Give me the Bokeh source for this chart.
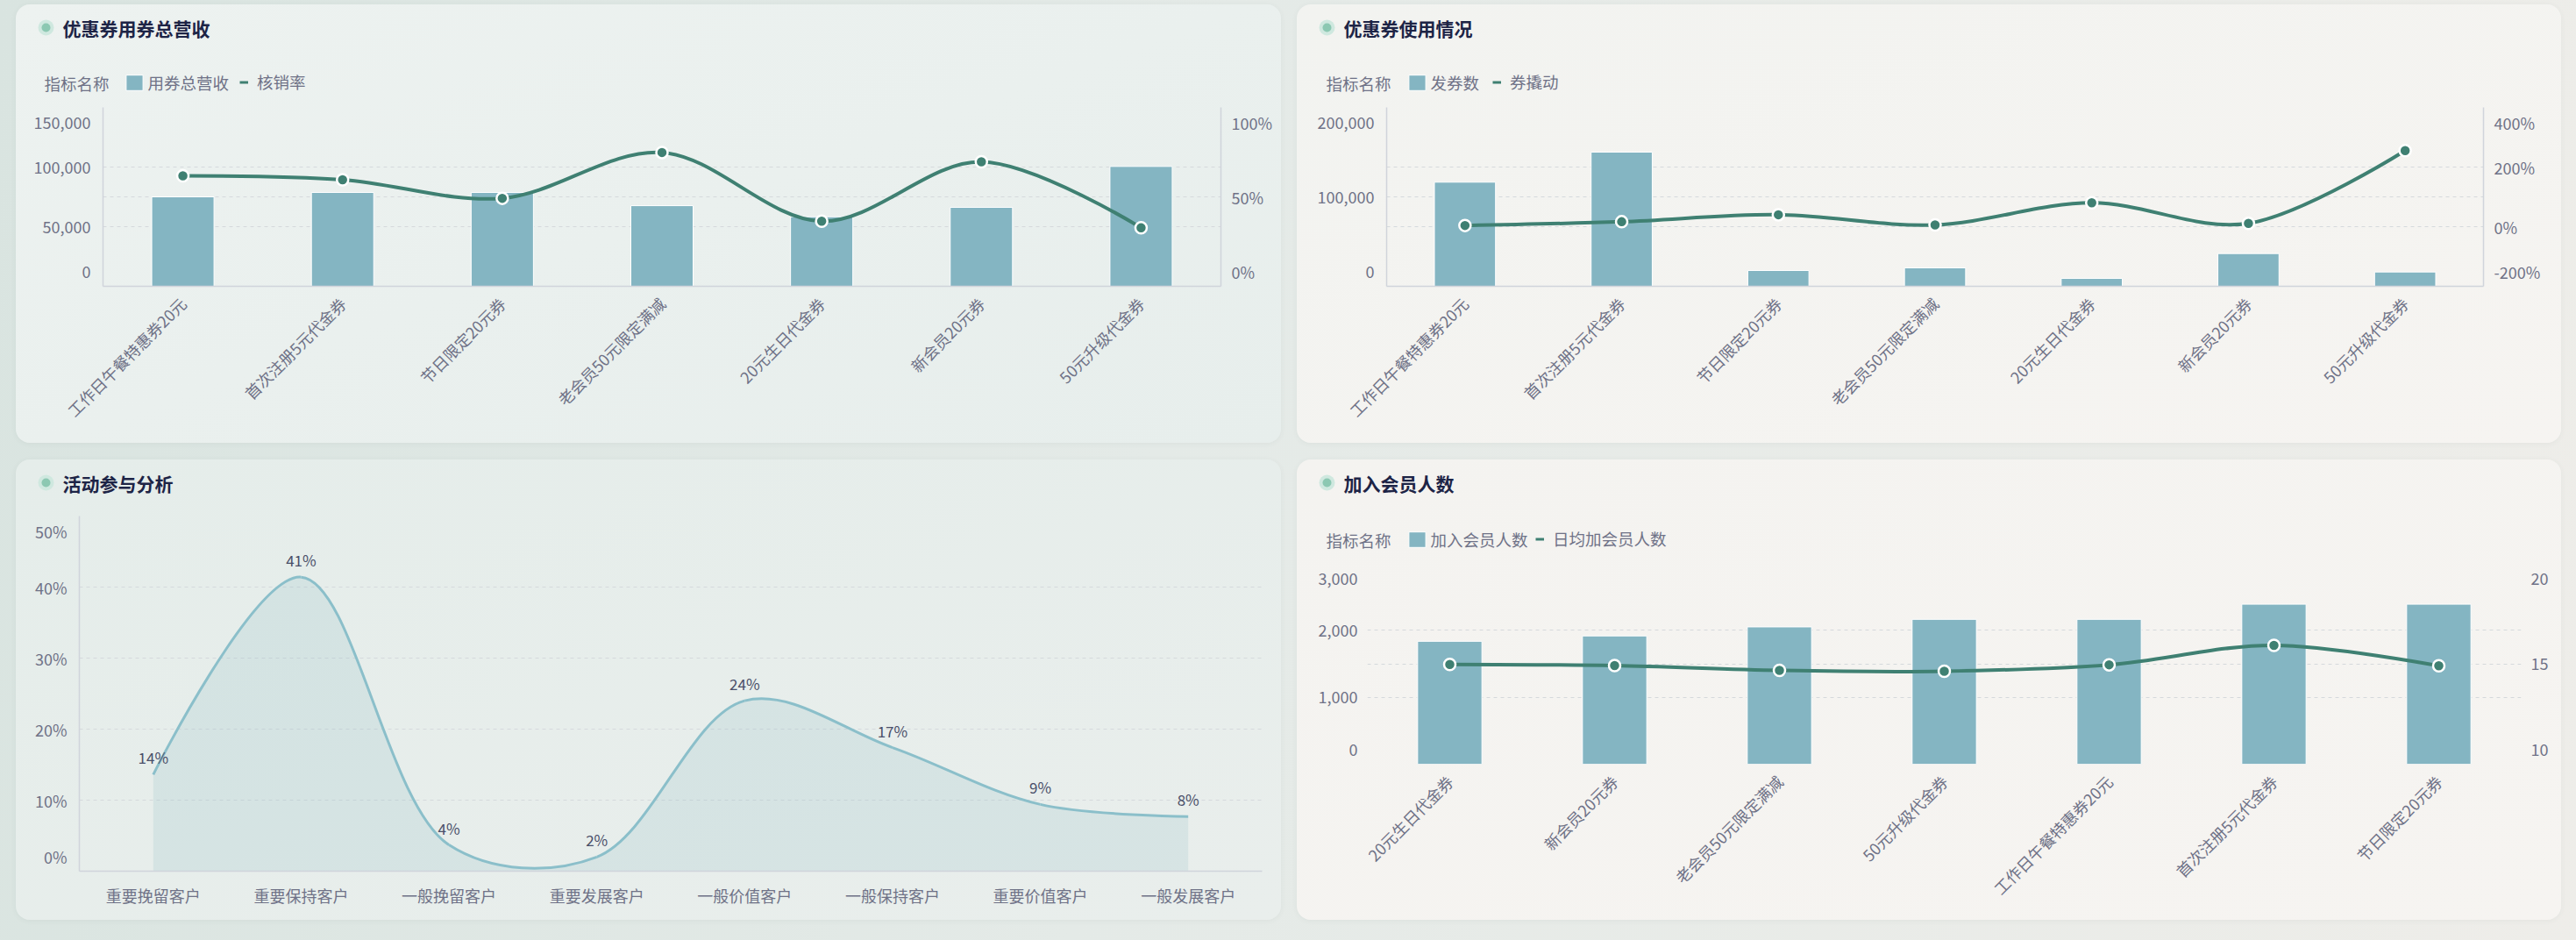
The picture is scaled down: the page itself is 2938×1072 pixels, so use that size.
import math
from bokeh.plotting import figure
from bokeh.models import (FactorRange, Range1d, LinearAxis, FixedTicker, NumeralTickFormatter,
                          Grid, Legend, LegendItem, Label, LabelSet, ColumnDataSource)
from bokeh.core.properties import value
from bokeh.layouts import row, column
from bokeh.embed import file_html
from bokeh.resources import INLINE

# ---------------- data ----------------
coupons_a = ["工作日午餐特惠券20元", "首次注册5元代金券", "节日限定20元券", "老会员50元限定满减",
             "20元生日代金券", "新会员20元券", "50元升级代金券"]
coupon_revenue = [75000, 78700, 78700, 67600, 58300, 66200, 100500]
writeoff_rate = [0.618, 0.596, 0.492, 0.748, 0.364, 0.696, 0.327]

coupons_issued = [116400, 150000, 17650, 20600, 8800, 36600, 16000]
coupon_leverage = [0.04, 0.166, 0.40, 0.06, 0.80, 0.11, 2.55]

segments = ["重要挽留客户", "重要保持客户", "一般挽留客户", "重要发展客户",
            "一般价值客户", "一般保持客户", "重要价值客户", "一般发展客户"]
participation = [0.136, 0.414, 0.037, 0.020, 0.240, 0.174, 0.094, 0.077]

coupons_b = ["20元生日代金券", "新会员20元券", "老会员50元限定满减", "50元升级代金券",
             "工作日午餐特惠券20元", "首次注册5元代金券", "节日限定20元券"]
new_members = [1836, 1916, 2051, 2164, 2164, 2390, 2390]
daily_new_members = [14.97, 14.91, 14.67, 14.63, 14.95, 15.92, 14.90]

titles = ["优惠券用券总营收", "优惠券使用情况", "活动参与分析", "加入会员人数"]
legend_title = "指标名称"

# ---------------- style ----------------
FONT = "Noto Sans CJK SC"
BAR = "#84b5c2"
LINE = "#3f8072"
AREA_LINE = "#8bbfca"
TXT = "#6f7287"
TITLE_C = "#1d2446"
GRID_C = "#d5d9dc"
AXIS_C = "#d0d4db"
EDGE_SHIFT = 17  # px: end tick labels are drawn inside the axis extent


def fmt_thousands(v):
    return f"{v:,.0f}"


def fmt_pct(v):
    return f"{v * 100:.0f}%"


def fmt_plain(v):
    return f"{v:.0f}"


def spline_segments(xpos, ys, sx, sy, alpha=0.5):
    """Centripetal Catmull-Rom -> cubic Bezier control points (computed in pixel space)."""
    pts = [(x * sx, y * sy) for x, y in zip(xpos, ys)]
    n = len(pts)
    out = {k: [] for k in ("x0", "y0", "x1", "y1", "cx0", "cy0", "cx1", "cy1")}

    def d2a(a, b):
        return ((a[0] - b[0]) ** 2 + (a[1] - b[1]) ** 2) ** alpha

    for i in range(n - 1):
        p1, p2 = pts[i], pts[i + 1]
        l12_2a = d2a(p1, p2)
        l12_a = math.sqrt(l12_2a)
        c1 = p1
        if i > 0:
            p0 = pts[i - 1]
            l01_2a = d2a(p0, p1)
            l01_a = math.sqrt(l01_2a)
            if l01_a > 1e-12:
                a = 2 * l01_2a + 3 * l01_a * l12_a + l12_2a
                nn = 3 * l01_a * (l01_a + l12_a)
                c1 = ((p1[0] * a - p0[0] * l12_2a + p2[0] * l01_2a) / nn,
                      (p1[1] * a - p0[1] * l12_2a + p2[1] * l01_2a) / nn)
        c2 = p2
        if i + 2 < n:
            p3 = pts[i + 2]
            l23_2a = d2a(p2, p3)
            l23_a = math.sqrt(l23_2a)
            if l23_a > 1e-12:
                b = 2 * l23_2a + 3 * l23_a * l12_a + l12_2a
                m = 3 * l23_a * (l23_a + l12_a)
                c2 = ((p2[0] * b + p1[0] * l23_2a - p3[0] * l12_2a) / m,
                      (p2[1] * b + p1[1] * l23_2a - p3[1] * l12_2a) / m)
        out["x0"].append(p1[0] / sx); out["y0"].append(p1[1] / sy)
        out["x1"].append(p2[0] / sx); out["y1"].append(p2[1] / sy)
        out["cx0"].append(c1[0] / sx); out["cy0"].append(c1[1] / sy)
        out["cx1"].append(c2[0] / sx); out["cy1"].append(c2[1] / sy)
    return out


def bezier_outline(seg, steps=16):
    xs, ys = [], []
    for i in range(len(seg["x0"])):
        P = [(seg["x0"][i], seg["y0"][i]), (seg["cx0"][i], seg["cy0"][i]),
             (seg["cx1"][i], seg["cy1"][i]), (seg["x1"][i], seg["y1"][i])]
        for k in range(steps + 1):
            if i > 0 and k == 0:
                continue
            t = k / steps
            u = 1 - t
            xs.append(u**3 * P[0][0] + 3 * u * u * t * P[1][0] + 3 * u * t * t * P[2][0] + t**3 * P[3][0])
            ys.append(u**3 * P[0][1] + 3 * u * u * t * P[1][1] + 3 * u * t * t * P[2][1] + t**3 * P[3][1])
    return xs, ys


def style_axis(ax, standoff):
    ax.axis_line_color = AXIS_C
    ax.axis_line_width = 1.5
    ax.major_tick_line_color = None
    ax.minor_tick_line_color = None
    ax.major_label_text_font = FONT
    ax.major_label_text_font_size = "18px"
    ax.major_label_text_color = TXT
    ax.major_label_standoff = standoff


def set_value_axis(ax, ticks, lo, hi, fh, fmt):
    """Ticks at the range ends get their labels nudged inward (as in the reference)."""
    d = EDGE_SHIFT * (hi - lo) / fh
    pos, over = [], {}
    for t in ticks:
        q = t
        if abs(t - hi) < 1e-9:
            q = hi - d
        elif abs(t - lo) < 1e-9:
            q = lo + d
        pos.append(q)
        over[q] = fmt(t)
    ax.ticker = FixedTicker(ticks=pos)
    ax.major_label_overrides = over


def make_chart(w, h, ml, mr, mt, mb, factors, y0, y1):
    p = figure(width=w, height=h, x_range=FactorRange(factors=factors), y_range=Range1d(y0, y1),
               output_backend="svg", toolbar_location=None,
               min_border_left=ml, min_border_right=mr, min_border_top=mt, min_border_bottom=mb,
               background_fill_color="white", background_fill_alpha=0,
               border_fill_color="white", border_fill_alpha=0, outline_line_color=None)
    p.xgrid.visible = False
    p.ygrid.grid_line_color = GRID_C
    p.ygrid.grid_line_dash = "4 4"
    p.ygrid.grid_line_width = 1
    return p, w - ml - mr, h - mt - mb


def make_header(w, h, title, ty, legend_spec=None):
    """legend_spec: (labels, x_title, x_square, x_dash, center_y)"""
    hd = figure(width=w, height=h, x_range=Range1d(0, w), y_range=Range1d(h, 0),
                x_axis_type=None, y_axis_type=None, output_backend="svg", toolbar_location=None,
                min_border=0, background_fill_color="white", background_fill_alpha=0,
                border_fill_color="white", border_fill_alpha=0, outline_line_color=None)
    hd.scatter(x=[34], y=[ty], size=18, fill_color="#cfe8df", line_color=None)
    hd.scatter(x=[34], y=[ty], size=10, fill_color="#8cc8b2", line_color=None)
    hd.add_layout(Label(x=53, y=ty, text=title, text_font=FONT, text_font_size="21px",
                        text_font_style="bold", text_color=TITLE_C, text_baseline="middle"))
    if legend_spec is not None:
        labels, x_title, x_sq, x_dash, cy = legend_spec
        # legend swatches (kept outside the header's visible range)
        bar_r = hd.vbar(x=[-100], top=[-100], bottom=[-110], width=1, fill_color=BAR,
                        line_color="white", line_width=1)
        line_r = hd.line(x=[-110, -100], y=[-100, -100], line_color=LINE, line_width=3)
        vy = h - cy - 12
        common = dict(orientation="horizontal", background_fill_alpha=0, border_line_alpha=0,
                      padding=0, margin=0, spacing=17,
                      label_text_font=FONT, label_text_font_size="18.5px", label_text_color=TXT)
        hd.add_layout(Label(x=x_title, y=cy, text=legend_title, text_font=FONT,
                            text_font_size="18.5px", text_color=TXT, text_baseline="middle"))
        la = Legend(items=[LegendItem(label=labels[0], renderers=[bar_r])], location=(x_sq - 2.5, vy - 1),
                    glyph_width=24, glyph_height=22, label_standoff=4, **common)
        lb = Legend(items=[LegendItem(label=labels[1], renderers=[line_r])], location=(x_dash, vy),
                    glyph_width=10, glyph_height=17, label_standoff=10, **common)
        hd.add_layout(la)
        hd.add_layout(lb)
    return hd


def bar_line_chart(factors, bars, rates, w, h, ml, mr, mt, mb, y_left, left_ticks, left_fmt,
                   y_right, right_ticks, right_fmt, show_axes=True, lstand=8, rstand=6):
    p, fw, fh = make_chart(w, h, ml, mr, mt, mb, factors, y_left[0], y_left[1])
    p.extra_y_ranges = {"right": Range1d(y_right[0], y_right[1])}
    p.ygrid[0].ticker = FixedTicker(ticks=left_ticks)
    yl = p.yaxis[0]
    set_value_axis(yl, left_ticks, y_left[0], y_left[1], fh, left_fmt)
    style_axis(yl, lstand)
    yr = LinearAxis(y_range_name="right")
    set_value_axis(yr, right_ticks, y_right[0], y_right[1], fh, right_fmt)
    style_axis(yr, rstand)
    p.add_layout(yr, "right")
    xa = p.xaxis[0]
    style_axis(xa, 10)
    xa.major_label_orientation = math.pi / 4
    if not show_axes:
        yl.axis_line_color = None
        yr.axis_line_color = None
        xa.axis_line_color = None
    p.add_layout(Grid(dimension=1, ticker=FixedTicker(ticks=right_ticks), y_range_name="right",
                      grid_line_color=GRID_C, grid_line_dash="4 4", grid_line_width=1))

    src = ColumnDataSource(dict(x=factors, top=bars))
    p.vbar(x="x", top="top", width=0.39, bottom=0, source=src, fill_color=BAR,
           line_color="white", line_width=1)
    xpos = [i + 0.5 for i in range(len(factors))]
    seg = spline_segments(xpos, rates, fw / len(factors), fh / (y_right[1] - y_right[0]))
    p.bezier(x0="x0", y0="y0", x1="x1", y1="y1", cx0="cx0", cy0="cy0", cx1="cx1", cy1="cy1",
             source=ColumnDataSource(seg), line_color=LINE, line_width=4, y_range_name="right")
    p.scatter(x=xpos, y=rates, size=13, fill_color=LINE, line_color="white", line_width=2.5,
              y_range_name="right")
    return p


def card(header, chart, bg):
    return column(header, column(chart), spacing=0,
                  styles={"border-radius": "16px", "background": bg,
                          "box-shadow": "0 1px 6px rgba(70,90,85,0.06)", "overflow": "hidden"})


TOP_H, BOT_H = 500, 525
HDR_TOP = 104
BG_TL = "linear-gradient(160deg, #edf2f0 0%, #e7eeec 100%)"
BG_TR = "linear-gradient(160deg, #f2f3f0 0%, #f6f4f1 100%)"
BG_BL = "linear-gradient(160deg, #e5edea 0%, #e9eeec 100%)"
BG_BR = "linear-gradient(160deg, #f4f3f0 0%, #f6f4f1 100%)"

# card 1
h1 = make_header(1443, HDR_TOP, titles[0], 26, (["用券总营收", "核销率"], 32, 125, 255, 89))
c1 = bar_line_chart(coupons_a, coupon_revenue, writeoff_rate, 1443, TOP_H - HDR_TOP,
                    99, 69, 117 - HDR_TOP, 179,
                    (0, 150000), [0, 50000, 100000, 150000], fmt_thousands,
                    (0, 1), [0, 0.5, 1], fmt_pct)
# card 2
h2 = make_header(1442, HDR_TOP, titles[1], 26, (["发券数", "券撬动"], 33, 127, 223, 89))
c2 = bar_line_chart(coupons_a, coupons_issued, coupon_leverage, 1442, TOP_H - HDR_TOP,
                    102, 89, 117 - HDR_TOP, 179,
                    (0, 200000), [0, 100000, 200000], fmt_thousands,
                    (-2, 4), [-2, 0, 2, 4], fmt_pct)
# card 4
HDR_BR = 104
h4 = make_header(1442, HDR_BR, titles[3], 26, (["加入会员人数", "日均加会员人数"], 33, 127, 272, 91))
c4 = bar_line_chart(coupons_b, new_members, daily_new_members, 1442, BOT_H - HDR_BR,
                    80, 46, 118 - HDR_BR, 178,
                    (0, 3000), [0, 1000, 2000, 3000], fmt_thousands,
                    (10, 20), [10, 15, 20], fmt_plain, show_axes=False, lstand=5, rstand=5)

# card 3 (area)
HDR_BL = 48
h3 = make_header(1443, HDR_BL, titles[2], 26)
c3, fw3, fh3 = make_chart(1443, BOT_H - HDR_BL, 72, 22, 64 - HDR_BL, 56, segments, 0, 0.5)
p3_ticks = [0, 0.1, 0.2, 0.3, 0.4, 0.5]
c3.ygrid[0].ticker = FixedTicker(ticks=p3_ticks)
ya = c3.yaxis[0]
set_value_axis(ya, p3_ticks, 0, 0.5, fh3, fmt_pct)
style_axis(ya, 8)
style_axis(c3.xaxis[0], 8)
xpos3 = [i + 0.5 for i in range(len(segments))]
seg3 = spline_segments(xpos3, participation, fw3 / len(segments), fh3 / 0.5)
ox, oy = bezier_outline(seg3)
c3.patch(x=[ox[0]] + ox + [ox[-1]], y=[0] + oy + [0], fill_color=BAR, fill_alpha=0.18, line_color=None)
c3.bezier(x0="x0", y0="y0", x1="x1", y1="y1", cx0="cx0", cy0="cy0", cx1="cx1", cy1="cy1",
          source=ColumnDataSource(seg3), line_color=AREA_LINE, line_width=3)
lab_src = ColumnDataSource(dict(x=segments, y=participation,
                                t=[f"{round(v * 100)}%" for v in participation]))
c3.add_layout(LabelSet(x="x", y="y", text="t", source=lab_src, y_offset=7,
                       text_align="center", text_baseline="bottom",
                       text_font=value(FONT), text_font_size="17px", text_color="#4a4f69"))

root = column(row(card(h1, c1, BG_TL), card(h2, c2, BG_TR), spacing=18),
              row(card(h3, c3, BG_BL), card(h4, c4, BG_BR), spacing=18), spacing=19)
root.margin = (5, 0, 0, 18)
try:
    from bokeh.models import GlobalInlineStyleSheet
    root.stylesheets = [GlobalInlineStyleSheet(css=(
        "html{min-height:100%;background:linear-gradient(100deg,#d9e4e0 0%,#e4eae7 45%,#eeede9 100%) fixed;}"
        "body{background:transparent;}"))]
except Exception:
    pass

open("out.html", "w").write(file_html(root, INLINE))
